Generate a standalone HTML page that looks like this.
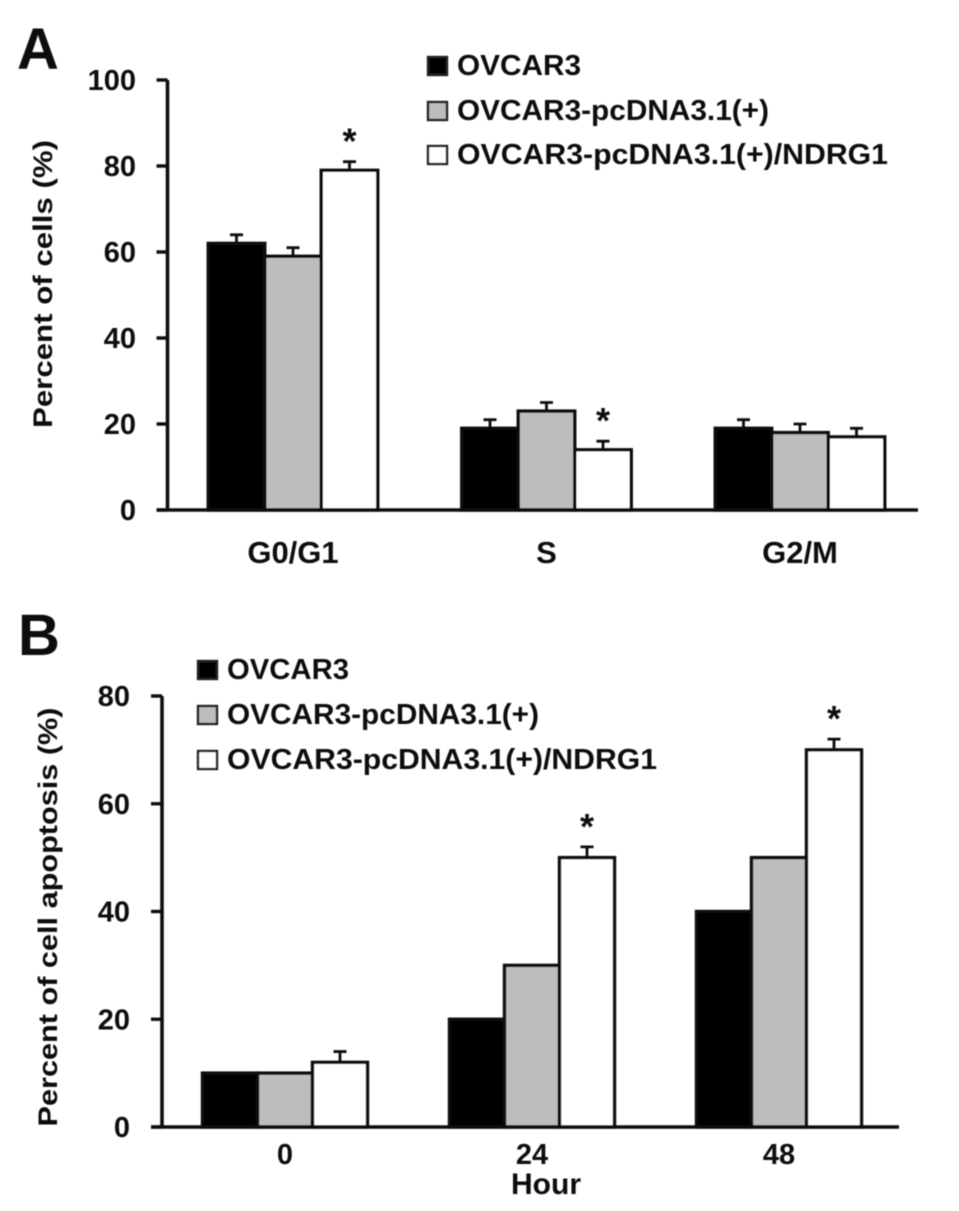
<!DOCTYPE html>
<html lang="en">
<head>
<meta charset="utf-8">
<title>Cell cycle and apoptosis bar charts</title>
<style>
html,body{margin:0;padding:0;background:#fff;width:959px;height:1211px;overflow:hidden}
svg{display:block}
text{font-family:"Liberation Sans",sans-serif;fill:#111}
.bold{font-weight:bold}
</style>
</head>
<body>
<svg id="figure" xmlns="http://www.w3.org/2000/svg" width="959" height="1211" viewBox="0 0 959 1211">
<defs><filter id="soft" x="-2%" y="-2%" width="104%" height="104%"><feGaussianBlur stdDeviation="0.45"/></filter></defs>
<g id="root" filter="url(#soft)"></g>
</svg>
<script>
const seriesNames = ["OVCAR3", "OVCAR3-pcDNA3.1(+)", "OVCAR3-pcDNA3.1(+)/NDRG1"];
const seriesFills = ["#000000", "#bdbdbd", "#ffffff"];

const phaseCategories = ["G0/G1", "S", "G2/M"];
const phaseControl = [62, 19, 19];
const phaseVector = [59, 23, 18];
const phaseNdrg1 = [79, 14, 17];
const phaseControlErr = [2, 2, 2];
const phaseVectorErr = [2, 2, 2];
const phaseNdrg1Err = [2, 2, 2];
const phaseSignificant = [true, true, false];
const phaseTicks = [0, 20, 40, 60, 80, 100];

const hourCategories = ["0", "24", "48"];
const hourControl = [10, 20, 40];
const hourVector = [10, 30, 50];
const hourNdrg1 = [12, 50, 70];
const hourControlErr = [0, 0, 0];
const hourVectorErr = [0, 0, 0];
const hourNdrg1Err = [2, 2, 2];
const hourSignificant = [false, true, true];
const hourTicks = [0, 20, 40, 60, 80];

const NS = "http://www.w3.org/2000/svg";
const root = document.getElementById("root");

function make(tag, attrs, parent, txt) {
  const el = document.createElementNS(NS, tag);
  for (const k in attrs) el.setAttribute(k, attrs[k]);
  if (txt !== undefined) el.textContent = txt;
  parent.appendChild(el);
  return el;
}

function drawPanel(cfg) {
  const y = v => cfg.y0 - (v - 0) * (cfg.y0 - cfg.yTop) / cfg.yMax;
  const cx = i => cfg.center0 + cfg.step * i;
  const panel = make("g", {}, root);
  
  

  const letter = make("text", {x: cfg.letterX, y: cfg.letterY, "font-size": 58, "class": "bold"}, panel, cfg.letter);
  
  

  const title = make("text", {
    transform: "translate(" + cfg.titleX + "," + cfg.titleY + ") rotate(-90)",
    "text-anchor": "middle", "font-size": cfg.titleSize, "class": "bold",
    textLength: cfg.titleLen, lengthAdjust: "spacingAndGlyphs"
  }, panel, cfg.title);
  
  

  cfg.series.forEach((vals, s) => {
    vals.forEach((v, i) => {
      const left = cx(i) + (s - 1.5) * cfg.barW;
      const bar = make("rect", {
        x: left, y: y(v), width: cfg.barW, height: cfg.y0 - y(v),
        fill: seriesFills[s], stroke: "#111", "stroke-width": 3.4
      }, panel);
      
      
      const e = cfg.errors[s][i];
      if (e > 0) {
        const mid = left + cfg.barW / 2;
        const err = make("path", {
          d: "M" + mid + " " + y(v) + "V" + y(v + e) + "M" + (mid - 6.5) + " " + y(v + e) + "H" + (mid + 6.5),
          stroke: "#111", "stroke-width": 2.8, fill: "none"
        }, panel);
        
        
      }
      if (s === 2 && cfg.significant[i]) {
        const star = make("text", {
          x: left + cfg.barW / 2, y: y(v + e) - 8, "text-anchor": "middle",
          "font-size": 36, "class": "bold"
        }, panel, "*");
        
        
      }
    });
  });

  const axes = make("path", {
    d: "M" + cfg.axisX + " " + y(cfg.yMax) + "V" + cfg.y0 + "M" + (cfg.axisX - 11) + " " + cfg.y0 + "H" + cfg.xEnd,
    stroke: "#111", "stroke-width": 3.6, fill: "none"
  }, panel);
  
  

  cfg.ticks.forEach(t => {
    const tick = make("path", {
      d: "M" + (cfg.axisX - 11) + " " + y(t) + "H" + cfg.axisX,
      stroke: "#111", "stroke-width": 3.4, fill: "none"
    }, panel);
    
    
    const label = make("text", {
      x: cfg.tickRight, y: y(t) + 10, "text-anchor": "end", "font-size": 29, "class": "bold"
    }, panel, String(t));
    
    
  });

  cfg.categories.forEach((c, i) => {
    const label = make("text", {
      x: cx(i), y: cfg.catY, "text-anchor": "middle", "font-size": cfg.catSize, "class": "bold"
    }, panel, c);
    
    
  });

  seriesNames.forEach((n, s) => {
    const sw = make("rect", {
      x: cfg.legendX, y: cfg.legendY[s], width: 19, height: 18,
      fill: seriesFills[s], stroke: "#222", "stroke-width": 2.4
    }, panel);
    
    
    const label = make("text", {
      x: cfg.legendX + 29, y: cfg.legendY[s] + 18, "font-size": 29, "class": "bold",
      textLength: cfg.legendLens[s], lengthAdjust: "spacingAndGlyphs"
    }, panel, n);
    
    
  });
}

drawPanel({
  letter: "A", letterX: 17, letterY: 69,
  title: "Percent of cells (%)", titleX: 52, titleY: 284, titleSize: 27, titleLen: 288,
  y0: 510, yTop: 80, yMax: 100, axisX: 167.5, xEnd: 918, tickRight: 136,
  center0: 293, step: 253.5, barW: 56.5, catY: 563, catSize: 31,
  categories: phaseCategories, ticks: phaseTicks,
  series: [phaseControl, phaseVector, phaseNdrg1],
  errors: [phaseControlErr, phaseVectorErr, phaseNdrg1Err],
  significant: phaseSignificant,
  legendX: 428, legendY: [57, 102, 146], legendLens: [124, 312, 431]
});

drawPanel({
  letter: "B", letterX: 18, letterY: 655,
  title: "Percent of cell apoptosis (%)", titleX: 57, titleY: 917, titleSize: 27, titleLen: 419,
  y0: 1127, yTop: 696, yMax: 80, axisX: 162, xEnd: 899, tickRight: 130,
  center0: 285, step: 247, barW: 55, catY: 1164, catSize: 29,
  categories: hourCategories, ticks: hourTicks,
  series: [hourControl, hourVector, hourNdrg1],
  errors: [hourControlErr, hourVectorErr, hourNdrg1Err],
  significant: hourSignificant,
  legendX: 198, legendY: [661, 706, 751], legendLens: [122, 312, 430]
});

const hourTitle = make("text", {x: 546, y: 1194, "text-anchor": "middle", "font-size": 30, "class": "bold"}, root, "Hour");


</script>
</body>
</html>
